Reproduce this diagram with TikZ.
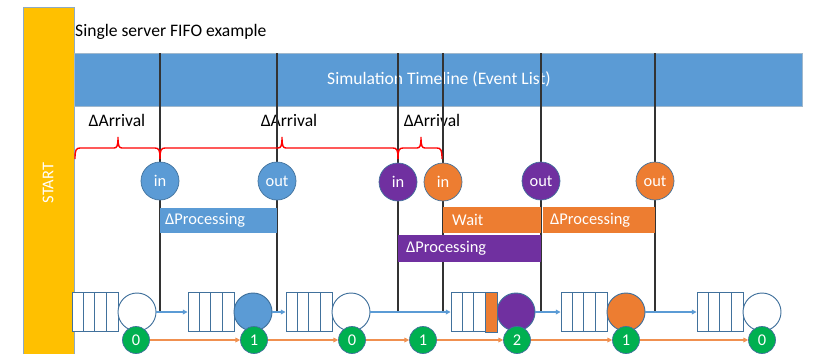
\documentclass[tikz,border=0pt]{standalone}
\usepackage{fontspec}
\setmainfont{Carlito}
\usetikzlibrary{arrows.meta}

\definecolor{startyellow}{HTML}{FFC000}
\definecolor{tlblue}{HTML}{5B9BD5}
\definecolor{edgeblue}{HTML}{41719C}
\definecolor{evpurple}{HTML}{7030A0}
\definecolor{evorange}{HTML}{ED7D31}
\definecolor{cntgreen}{HTML}{00B050}
\definecolor{bracered}{HTML}{FF0000}

\tikzset{
  lbl/.style={inner sep=0pt, font=\fontsize{15}{18}\selectfont},
  bartxt/.style={inner sep=0pt, anchor=west, text=white, font=\fontsize{14}{17}\selectfont},
  evline/.style={line width=1pt, black!80},
  event/.style={circle, draw=edgeblue, line width=0.6pt, minimum size=1.14cm, inner sep=0pt,
    text=white, font=\fontsize{14}{17}\selectfont},
  queue/.style={rectangle, draw=edgeblue, line width=0.8pt, fill=white,
    minimum width=1.38cm, minimum height=1.17cm, inner sep=0pt},
  server/.style={circle, draw=edgeblue, line width=0.8pt, minimum size=1.14cm, inner sep=0pt},
  counter/.style={circle, draw=edgeblue, line width=0.6pt, fill=cntgreen, minimum size=0.81cm,
    inner sep=0pt, text=white, font=\fontsize{14}{17}\selectfont},
  flow/.style={draw=tlblue, line width=0.9pt, -{Triangle[length=4pt,width=4pt]}},
  cflow/.style={draw=evorange!85, line width=0.9pt, -{Triangle[length=4pt,width=4pt]}},
  arrbrace/.style={draw=bracered, line width=1.2pt}
}

\begin{document}
\begin{tikzpicture}[x=0.03cm,y=-0.03cm]
\useasboundingbox (0,0) rectangle (815,353);
\clip (0,0) rectangle (815,353);

% start bar
\filldraw[fill=startyellow, draw=edgeblue!60, line width=0.6pt] (23,7) rectangle (74,360);
\node[rotate=90, text=white, inner sep=0pt, font=\fontsize{14}{17}\selectfont] (start) at (48,183) {START};

\node[lbl, anchor=west] (title) at (75,32) {Single server FIFO example};

% event list
\filldraw[fill=tlblue, draw=edgeblue!50, line width=0.6pt] (74,53) rectangle (802,106);
\node[lbl, text=white] (evlist) at (439,79) {Simulation Timeline (Event List)};

\node[lbl] (da1) at (117,120) {ΔArrival};
\node[lbl] (da2) at (289,120) {ΔArrival};
\node[lbl] (da3) at (432,120) {ΔArrival};

% event times
\foreach \x [count=\i] in {160,277,398,443,541,655} {
  \coordinate (t\i) at (\x,53);
  \coordinate (f\i) at (\x,312);
  \draw[evline] (t\i) -- (f\i);
}

% arrival braces
\draw[arrbrace] (75,159) .. controls (75,150) and (76,148) .. (80,148) -- (114,148)
  .. controls (117,148) and (118,146) .. (118,137) .. controls (118,146) and (119,148) .. (122,148)
  -- (155,148) .. controls (159,148) and (160,150) .. (160,159);
\draw[arrbrace] (160,159) .. controls (160,150) and (161,148) .. (165,148) -- (278,148)
  .. controls (281,148) and (282,146) .. (282,137) .. controls (282,146) and (283,148) .. (286,148)
  -- (393,148) .. controls (397,148) and (398,150) .. (398,159);
\draw[arrbrace] (398,159) .. controls (398,150) and (399,148) .. (403,148) -- (417,148)
  .. controls (420,148) and (421,146) .. (421,137) .. controls (421,146) and (422,148) .. (425,148)
  -- (437,148) .. controls (441,148) and (442,150) .. (442,159);

% events
\node[event, fill=tlblue] (in1) at (160,181) {in};
\node[event, fill=tlblue] (out1) at (277,181) {out};
\node[event, fill=evpurple] (in2) at (398,182) {in};
\node[event, fill=evorange] (in3) at (443,182) {in};
\node[event, fill=evpurple] (out2) at (541,181) {out};
\node[event, fill=evorange] (out3) at (655,181) {out};

% processing and waiting
\fill[tlblue] (160,208) rectangle (277,233);
\node[bartxt] (proc1) at (165,220.5) {ΔProcessing};
\fill[evorange] (443,207) rectangle (541,233);
\node[bartxt] (wait3) at (452,220) {Wait};
\fill[evorange] (543,207) rectangle (655,233);
\node[bartxt] (proc3) at (550,220) {ΔProcessing};
\fill[evpurple] (398,235) rectangle (541,262);
\node[bartxt] (proc2) at (406,248.5) {ΔProcessing};

% queue and server states
\foreach \s/\sx/\sfill in {1/137/white, 2/253/tlblue, 3/351/white, 4/516/evpurple, 5/626/evorange, 6/762/white} {
  \node[queue] (q\s) at (\sx-42,312) {};
  \foreach \k in {1,2,3}
    \draw[edgeblue, line width=0.8pt] ([xshift=\k*0.345cm]q\s.north west) -- ([xshift=\k*0.345cm]q\s.south west);
  \node[server, fill=\sfill] (s\s) at (\sx,312) {};
}
\filldraw[fill=evorange, draw=edgeblue, line width=0.8pt] ([xshift=1.035cm]q4.north west) rectangle (q4.south east);

\draw[flow] (s1) -- (q2);
\draw[flow] (s2) -- (q3);
\draw[flow] (s3) -- (q4);
\draw[flow] (s4) -- (q5);
\draw[flow] (s5) -- (q6);

% number in system
\foreach \i/\cx/\v in {1/136/0, 2/254/1, 3/352/0, 4/423/1, 5/517/2, 6/626/1, 7/762/0}
  \node[counter] (c\i) at (\cx,340) {\v};
\foreach \a/\b in {1/2, 2/3, 3/4, 4/5, 5/6, 6/7}
  \draw[cflow] (c\a) -- (c\b);

\end{tikzpicture}
\end{document}
